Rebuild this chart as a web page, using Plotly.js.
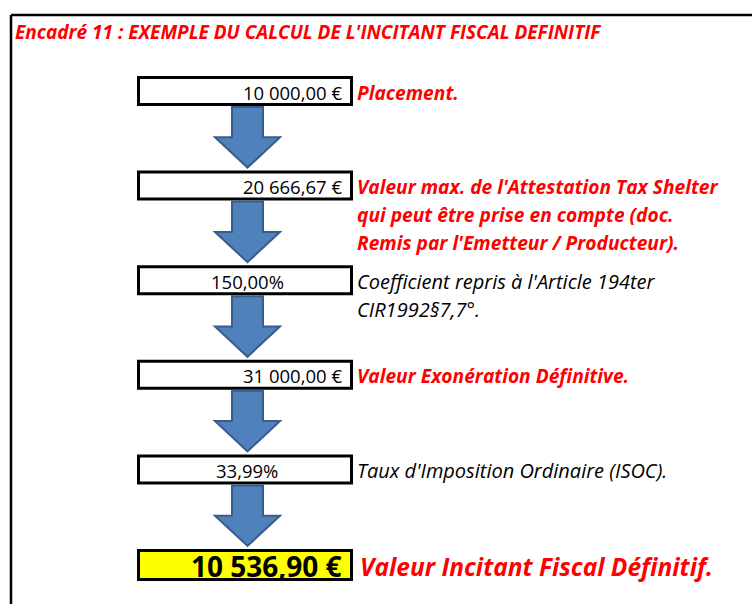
<!DOCTYPE html>
<html>
<head>
<meta charset="utf-8">
<script src="https://cdn.plot.ly/plotly-3.0.1.min.js"></script>
<style>html,body{margin:0;padding:0;background:#fff;}#chart{width:752px;height:604px;}</style>
</head>
<body>
<div id="chart"></div>
<script>
// ---- data ----
const title = "Encadré 11 : EXEMPLE DU CALCUL DE L'INCITANT FISCAL DEFINITIF";
const stepValues = ["10 000,00 €", "20 666,67 €", "150,00%", "31 000,00 €", "33,99%", "10 536,90 €"];
const stepLabels = [
  ["Placement."],
  ["Valeur max. de l'Attestation Tax Shelter", "qui peut être prise en compte (doc.", "Remis par l'Emetteur / Producteur)."],
  ["Coefficient repris à l'Article 194ter", "CIR1992§7,7°."],
  ["Valeur Exonération Définitive."],
  ["Taux d'Imposition Ordinaire (ISOC)."],
  ["Valeur Incitant Fiscal Définitif."]
];
const stepEmphasis = [true, true, false, true, false, true];

// ---- layout geometry ----
const FONT = "'Open Sans', Lato, sans-serif";
const boxX0 = 138.5, boxX1 = 351.5;
const firstTop = 76, stepGap = 94.6, boxH = 30;
const shapes = [];
const annotations = [];

// outer frame (left and top edges)
shapes.push({type: 'line', xref: 'x', yref: 'y', x0: 11, x1: 11, y0: 15, y1: 610, line: {color: '#000', width: 2.5}});
shapes.push({type: 'line', xref: 'x', yref: 'y', x0: 11, x1: 760, y0: 15, y1: 15, line: {color: '#000', width: 2.5}});

annotations.push({xref: 'x', yref: 'y', x: 13, y: 32, xanchor: 'left', yanchor: 'middle', showarrow: false,
  text: '<b><i>' + title + '</i></b>', font: {family: FONT, size: 19, color: '#ff0000'}});

const n = stepValues.length;
for (let i = 0; i < n; i++) {
  const last = i === n - 1;
  const top = firstTop + i * stepGap;
  const h = last ? boxH + 2 : boxH;
  const bot = top + h;
  const mid = (top + bot) / 2;
  shapes.push({type: 'rect', xref: 'x', yref: 'y', x0: boxX0, x1: boxX1, y0: top + 1.5, y1: bot - 1.5,
    fillcolor: last ? '#ffff00' : '#ffffff', line: {color: '#000', width: 3}});
  const isPct = stepValues[i].trim().endsWith('%');
  annotations.push({xref: 'x', yref: 'y', x: isPct ? (boxX0 + boxX1) / 2 + 2 : 344, y: mid + 1,
    xanchor: isPct ? 'center' : 'right', yanchor: 'middle', showarrow: false,
    text: last ? '<b>' + stepValues[i] + '</b>' : stepValues[i],
    font: {family: FONT, size: last ? 28 : 18.5, color: '#000'}});
  stepLabels[i].forEach((line, k) => {
    const emph = stepEmphasis[i];
    annotations.push({xref: 'x', yref: 'y', x: last ? 358 : 355, y: mid + 1 + k * 28,
      xanchor: 'left', yanchor: 'middle', showarrow: false,
      text: emph ? '<b><i>' + line + '</i></b>' : '<i>' + line + '</i>',
      font: {family: FONT, size: last ? 24.5 : (emph ? 19.2 : 20), color: emph ? '#ff0000' : '#000'}});
  });
  if (!last) {
    const nextTop = firstTop + (i + 1) * stepGap;
    const a0 = bot + 1, a1 = nextTop - 3;
    const am = (a0 + a1) / 2;
    const path = `M 232 ${a0} L 263 ${a0} L 263 ${am} L 280 ${am} L 247.5 ${a1} L 215 ${am} L 232 ${am} Z`;
    shapes.push({type: 'path', xref: 'x', yref: 'y', path: path,
      fillcolor: '#4f81bd', line: {color: '#385d8a', width: 2}});
  }
}

const layout = {
  width: 752, height: 604,
  margin: {l: 0, r: 0, t: 0, b: 0},
  paper_bgcolor: '#ffffff', plot_bgcolor: '#ffffff',
  xaxis: {range: [0, 752], visible: false, fixedrange: true},
  yaxis: {range: [604, 0], visible: false, fixedrange: true},
  shapes: shapes,
  annotations: annotations,
  showlegend: false
};
Plotly.newPlot('chart', [], layout, {displayModeBar: false, staticPlot: true});
</script>
</body>
</html>
